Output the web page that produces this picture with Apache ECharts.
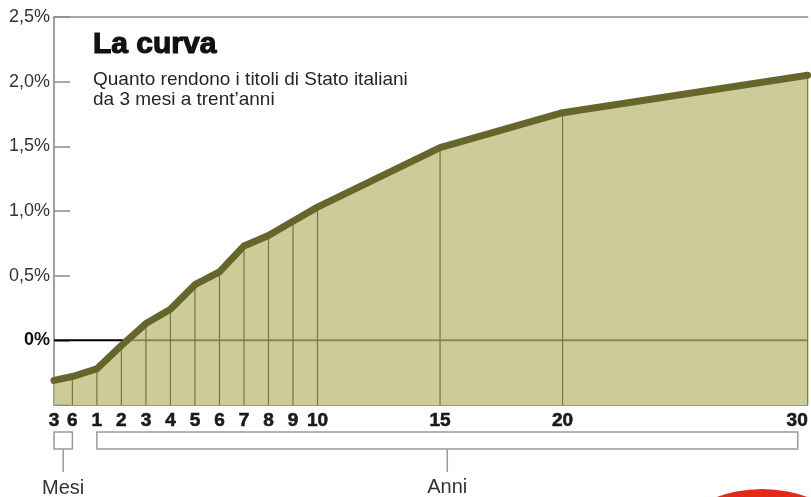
<!DOCTYPE html>
<html>
<head>
<meta charset="utf-8">
<script src="https://cdn.jsdelivr.net/npm/echarts@6/dist/echarts.min.js"></script>
<style>
  html, body { margin: 0; padding: 0; background: #fff; }
  #chart { width: 811px; height: 497px; }
</style>
</head>
<body>
<div id="chart"></div>
<script>
// scadenze (mesi poi anni) e rendimenti in %
var maturityLabels = ['3', '6', '1', '2', '3', '4', '5', '6', '7', '8', '9', '10', '15', '20', '30'];
var maturityYears = [0.25, 0.5, 1, 2, 3, 4, 5, 6, 7, 8, 9, 10, 15, 20, 30];
var yields = [-0.31, -0.28, -0.22, -0.04, 0.13, 0.24, 0.43, 0.53, 0.73, 0.81, 0.92, 1.03, 1.49, 1.76, 2.05];
var yMin = -0.5, yMax = 2.5, yStep = 0.5;

var FONT = '"Liberation Sans", Arial, sans-serif';
var NARROW = '"Liberation Sans Narrow", "Liberation Sans", sans-serif';

// i mesi sono allargati sull'asse, gli anni sono lineari
function axisPos(t) {
    return t >= 1 ? t : (t - 0.5) * 3;
}

var xPositions = maturityYears.map(axisPos);
var points = xPositions.map(function (x, i) { return [x, yields[i]]; });
var xMin = axisPos(maturityYears[0]);
var xMax = maturityYears[maturityYears.length - 1];

function getOption() {
    return {
        animation: false,
        title: {
            text: 'La curva',
            subtext: 'Quanto rendono i titoli di Stato italiani\nda 3 mesi a trent\u2019anni',
            left: 88,
            top: 25,
            itemGap: 9,
            textStyle: {
                fontFamily: FONT, fontWeight: 'bold', fontSize: 30, color: '#111',
                textBorderColor: '#111', textBorderWidth: 1.2
            },
            subtextStyle: { fontFamily: NARROW, fontSize: 19, lineHeight: 20, color: '#262626' }
        },
        grid: { left: 54, right: -1, top: 17, bottom: 92 },
        xAxis: [{
            type: 'value',
            min: xMin,
            max: xMax,
            splitLine: { show: false },
            axisLine: { show: true, onZero: false, lineStyle: { color: '#9a9a80', width: 1 } },
            axisTick: { show: false },
            axisLabel: {
                customValues: xPositions,
                alignMaxLabel: 'right',
                margin: 6,
                fontFamily: FONT,
                fontWeight: 'bold',
                fontSize: 19,
                color: '#1a1a1a',
                textBorderColor: '#1a1a1a',
                textBorderWidth: 0.6,
                formatter: function (v) {
                    var i = xPositions.indexOf(v);
                    return i >= 0 ? maturityLabels[i] : '';
                }
            }
        }, {
            type: 'value',
            position: 'top',
            min: xMin,
            max: xMax,
            splitLine: { show: false },
            axisLine: { show: true, onZero: false, lineStyle: { color: '#8c8c8c', width: 1.5 } },
            axisTick: { show: false },
            axisLabel: { show: false }
        }],
        yAxis: {
            type: 'value',
            min: yMin,
            max: yMax,
            interval: yStep,
            splitLine: { show: false },
            axisLine: { show: true, onZero: false, lineStyle: { color: '#808080', width: 1.5 } },
            axisTick: { show: true, inside: true, length: 16, lineStyle: { color: '#8c8c8c', width: 1.5 } },
            axisLabel: {
                margin: 4,
                fontFamily: FONT,
                fontSize: 18,
                color: '#333',
                formatter: function (v) {
                    if (v < 0) return '';
                    if (v === 0) return '{z|0%}';
                    return v.toFixed(1).replace('.', ',') + '%';
                },
                rich: {
                    z: { fontFamily: FONT, fontWeight: 'bold', fontSize: 18, color: '#111' }
                }
            }
        },
        series: [{
            // linea dello zero, sotto l'area semitrasparente
            type: 'line',
            z: 1,
            symbol: 'none',
            silent: true,
            lineStyle: { color: '#000', width: 2 },
            data: [[xMin, 0], [xMax, 0]]
        }, {
            type: 'line',
            z: 2,
            symbol: 'none',
            silent: true,
            lineStyle: { width: 0 },
            areaStyle: { origin: 'start', color: 'rgb(186,186,117)', opacity: 0.74 },
            data: points
        }, {
            // verticali dalla curva all'asse
            type: 'custom',
            z: 3,
            silent: true,
            data: points.slice(1),
            renderItem: function (params, api) {
                var top = api.coord([api.value(0), api.value(1)]);
                var bottom = api.coord([api.value(0), yMin]);
                return {
                    type: 'line',
                    shape: { x1: top[0], y1: top[1], x2: bottom[0], y2: bottom[1] },
                    style: { stroke: '#76763f', lineWidth: 1.2 }
                };
            }
        }, {
            type: 'line',
            z: 4,
            symbol: 'none',
            silent: true,
            lineStyle: { color: '#66662b', width: 7, cap: 'round', join: 'round' },
            data: points
        }]
    };
}

var myChart = echarts.init(document.getElementById('chart'));
myChart.setOption(getOption());

// parentesi "Mesi" / "Anni" sotto l'asse
function px(t) { return myChart.convertToPixel({ xAxisIndex: 0 }, axisPos(t)); }
var base = myChart.convertToPixel({ yAxisIndex: 0 }, yMin);
var mesiL = px(0.25), mesiR = px(0.5);
var anniL = px(1), anniR = px(30) - 10;
var bTop = base + 27, bBot = base + 44;
var boxStyle = { fill: 'none', stroke: '#9a9a9a', lineWidth: 1.5 };

myChart.setOption({
    graphic: [
        { type: 'rect', shape: { x: mesiL, y: bTop, width: mesiR - mesiL, height: bBot - bTop }, style: boxStyle },
        { type: 'rect', shape: { x: anniL, y: bTop, width: anniR - anniL, height: bBot - bTop }, style: boxStyle },
        { type: 'line', shape: { x1: (mesiL + mesiR) / 2, y1: bBot, x2: (mesiL + mesiR) / 2, y2: bBot + 23 }, style: { stroke: '#9a9a9a', lineWidth: 1.5 } },
        { type: 'line', shape: { x1: (anniL + anniR) / 2, y1: bBot, x2: (anniL + anniR) / 2, y2: bBot + 23 }, style: { stroke: '#9a9a9a', lineWidth: 1.5 } },
        { type: 'text', x: (mesiL + mesiR) / 2, y: bBot + 39, style: { text: 'Mesi', font: '20px ' + NARROW, fill: '#333', align: 'center', verticalAlign: 'middle' } },
        { type: 'text', x: (anniL + anniR) / 2, y: bBot + 38, style: { text: 'Anni', font: '20px ' + NARROW, fill: '#333', align: 'center', verticalAlign: 'middle' } },
        { type: 'circle', shape: { cx: 762, cy: 621, r: 132 }, style: { fill: '#e4291b' } }
    ]
});
</script>
</body>
</html>
